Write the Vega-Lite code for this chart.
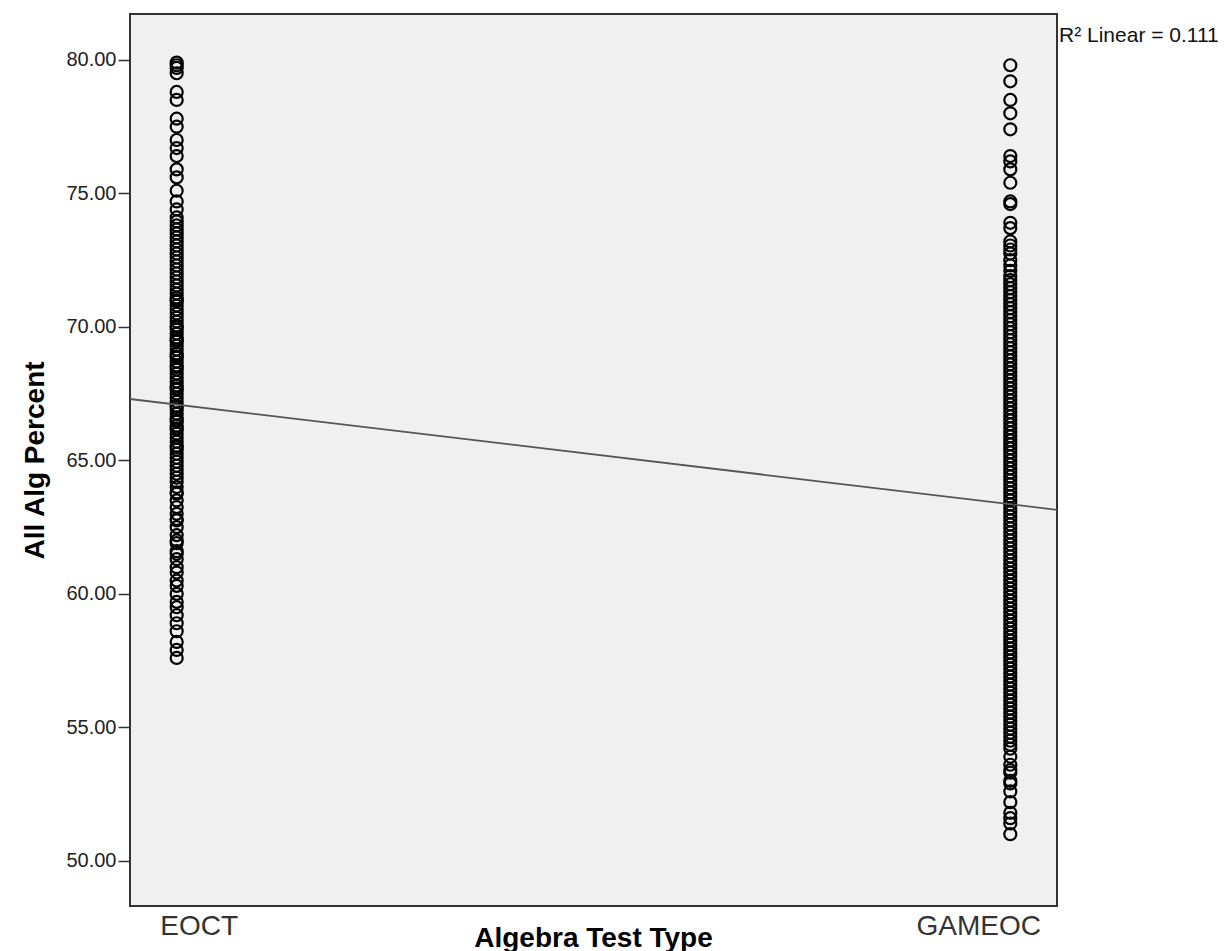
{
  "$schema": "https://vega.github.io/schema/vega-lite/v6.json",
  "autosize": {"type": "none"},
  "width": 927,
  "height": 892,
  "padding": {"left": 130, "top": 14, "right": 170, "bottom": 45},
  "background": "white",
  "config": {
    "view": {"fill": "#f0f0f0", "stroke": "#333333", "strokeWidth": 2},
    "font": "Liberation Sans"
  },
  "datasets": {
    "scores": [
      {"test": 1, "pct": 79.9}, {"test": 1, "pct": 79.8}, {"test": 1, "pct": 79.7}, {"test": 1, "pct": 79.5},
      {"test": 1, "pct": 78.8}, {"test": 1, "pct": 78.5}, {"test": 1, "pct": 77.8}, {"test": 1, "pct": 77.5},
      {"test": 1, "pct": 77.0}, {"test": 1, "pct": 76.7}, {"test": 1, "pct": 76.4}, {"test": 1, "pct": 75.9},
      {"test": 1, "pct": 75.6}, {"test": 1, "pct": 75.1}, {"test": 1, "pct": 74.7}, {"test": 1, "pct": 74.4},
      {"test": 1, "pct": 74.1}, {"test": 1, "pct": 73.8}, {"test": 1, "pct": 73.5}, {"test": 1, "pct": 73.2},
      {"test": 1, "pct": 72.9}, {"test": 1, "pct": 72.6}, {"test": 1, "pct": 72.3}, {"test": 1, "pct": 72.0},
      {"test": 1, "pct": 71.7}, {"test": 1, "pct": 71.4}, {"test": 1, "pct": 71.1}, {"test": 1, "pct": 70.8},
      {"test": 1, "pct": 70.5}, {"test": 1, "pct": 70.2}, {"test": 1, "pct": 69.9}, {"test": 1, "pct": 69.6},
      {"test": 1, "pct": 69.3}, {"test": 1, "pct": 69.0}, {"test": 1, "pct": 68.7}, {"test": 1, "pct": 68.4},
      {"test": 1, "pct": 68.1}, {"test": 1, "pct": 67.8}, {"test": 1, "pct": 67.5}, {"test": 1, "pct": 67.2},
      {"test": 1, "pct": 66.9}, {"test": 1, "pct": 66.6}, {"test": 1, "pct": 66.3}, {"test": 1, "pct": 66.0},
      {"test": 1, "pct": 65.7}, {"test": 1, "pct": 65.4}, {"test": 1, "pct": 65.1}, {"test": 1, "pct": 64.8},
      {"test": 1, "pct": 64.5}, {"test": 1, "pct": 64.0}, {"test": 1, "pct": 63.5}, {"test": 1, "pct": 63.0},
      {"test": 1, "pct": 62.5}, {"test": 1, "pct": 61.9}, {"test": 1, "pct": 61.3}, {"test": 1, "pct": 60.8},
      {"test": 1, "pct": 60.3}, {"test": 1, "pct": 59.7}, {"test": 1, "pct": 59.2}, {"test": 1, "pct": 58.6},
      {"test": 1, "pct": 58.2}, {"test": 1, "pct": 57.9}, {"test": 1, "pct": 57.6},
      {"test": 1, "pct": 68.5}, {"test": 1, "pct": 67.0}, {"test": 1, "pct": 66.5}, {"test": 1, "pct": 69.5},
      {"test": 1, "pct": 70.0}, {"test": 1, "pct": 65.5}, {"test": 1, "pct": 66.2}, {"test": 1, "pct": 67.7},
      {"test": 1, "pct": 68.9}, {"test": 1, "pct": 71.0}, {"test": 1, "pct": 64.2}, {"test": 1, "pct": 63.8},
      {"test": 1, "pct": 62.8}, {"test": 1, "pct": 62.2}, {"test": 1, "pct": 61.6},
      {"test": 1, "pct": 73.95}, {"test": 1, "pct": 73.65}, {"test": 1, "pct": 73.35}, {"test": 1, "pct": 73.05},
      {"test": 1, "pct": 72.75}, {"test": 1, "pct": 72.45}, {"test": 1, "pct": 72.15}, {"test": 1, "pct": 71.85},
      {"test": 1, "pct": 71.55}, {"test": 1, "pct": 71.25}, {"test": 1, "pct": 70.95}, {"test": 1, "pct": 70.65},
      {"test": 1, "pct": 70.35}, {"test": 1, "pct": 70.05}, {"test": 1, "pct": 69.75}, {"test": 1, "pct": 69.45},
      {"test": 1, "pct": 69.15}, {"test": 1, "pct": 68.85}, {"test": 1, "pct": 68.55}, {"test": 1, "pct": 68.25},
      {"test": 1, "pct": 67.95}, {"test": 1, "pct": 67.65}, {"test": 1, "pct": 67.35}, {"test": 1, "pct": 67.05},
      {"test": 1, "pct": 66.75}, {"test": 1, "pct": 66.45}, {"test": 1, "pct": 66.15}, {"test": 1, "pct": 65.85},
      {"test": 1, "pct": 65.55}, {"test": 1, "pct": 65.25}, {"test": 1, "pct": 64.95}, {"test": 1, "pct": 64.65},
      {"test": 1, "pct": 64.35}, {"test": 1, "pct": 63.75}, {"test": 1, "pct": 63.25}, {"test": 1, "pct": 62.75},
      {"test": 1, "pct": 62.0}, {"test": 1, "pct": 61.5}, {"test": 1, "pct": 61.0}, {"test": 1, "pct": 60.5},
      {"test": 1, "pct": 60.0}, {"test": 1, "pct": 59.5}, {"test": 1, "pct": 58.9},
      {"test": 2, "pct": 79.8}, {"test": 2, "pct": 79.2}, {"test": 2, "pct": 78.5}, {"test": 2, "pct": 78.0},
      {"test": 2, "pct": 77.4}, {"test": 2, "pct": 76.4}, {"test": 2, "pct": 76.2}, {"test": 2, "pct": 75.9},
      {"test": 2, "pct": 75.4}, {"test": 2, "pct": 74.7}, {"test": 2, "pct": 74.6}, {"test": 2, "pct": 73.9},
      {"test": 2, "pct": 73.7}, {"test": 2, "pct": 73.2}, {"test": 2, "pct": 72.9}, {"test": 2, "pct": 72.5},
      {"test": 2, "pct": 72.3}, {"test": 2, "pct": 71.9}, {"test": 2, "pct": 71.6}, {"test": 2, "pct": 71.3},
      {"test": 2, "pct": 71.0}, {"test": 2, "pct": 70.7}, {"test": 2, "pct": 70.4}, {"test": 2, "pct": 70.1},
      {"test": 2, "pct": 69.8}, {"test": 2, "pct": 69.5}, {"test": 2, "pct": 69.2}, {"test": 2, "pct": 68.9},
      {"test": 2, "pct": 68.6}, {"test": 2, "pct": 68.3}, {"test": 2, "pct": 68.0}, {"test": 2, "pct": 67.7},
      {"test": 2, "pct": 67.4}, {"test": 2, "pct": 67.1}, {"test": 2, "pct": 66.8}, {"test": 2, "pct": 66.5},
      {"test": 2, "pct": 66.2}, {"test": 2, "pct": 65.9}, {"test": 2, "pct": 65.6}, {"test": 2, "pct": 65.3},
      {"test": 2, "pct": 65.0}, {"test": 2, "pct": 64.7}, {"test": 2, "pct": 64.4}, {"test": 2, "pct": 64.1},
      {"test": 2, "pct": 63.8}, {"test": 2, "pct": 63.5}, {"test": 2, "pct": 63.2}, {"test": 2, "pct": 62.9},
      {"test": 2, "pct": 62.6}, {"test": 2, "pct": 62.3}, {"test": 2, "pct": 62.0}, {"test": 2, "pct": 61.7},
      {"test": 2, "pct": 61.4}, {"test": 2, "pct": 61.1}, {"test": 2, "pct": 60.8}, {"test": 2, "pct": 60.5},
      {"test": 2, "pct": 60.2}, {"test": 2, "pct": 59.9}, {"test": 2, "pct": 59.6}, {"test": 2, "pct": 59.3},
      {"test": 2, "pct": 59.0}, {"test": 2, "pct": 58.7}, {"test": 2, "pct": 58.4}, {"test": 2, "pct": 58.1},
      {"test": 2, "pct": 57.8}, {"test": 2, "pct": 57.5}, {"test": 2, "pct": 57.2}, {"test": 2, "pct": 56.9},
      {"test": 2, "pct": 56.6}, {"test": 2, "pct": 56.3}, {"test": 2, "pct": 56.0}, {"test": 2, "pct": 55.7},
      {"test": 2, "pct": 55.4}, {"test": 2, "pct": 55.1}, {"test": 2, "pct": 54.8}, {"test": 2, "pct": 54.5},
      {"test": 2, "pct": 54.2}, {"test": 2, "pct": 53.9}, {"test": 2, "pct": 53.6}, {"test": 2, "pct": 53.3},
      {"test": 2, "pct": 53.0}, {"test": 2, "pct": 52.6}, {"test": 2, "pct": 52.2}, {"test": 2, "pct": 51.8},
      {"test": 2, "pct": 51.4}, {"test": 2, "pct": 51.0}, {"test": 2, "pct": 52.9}, {"test": 2, "pct": 53.4},
      {"test": 2, "pct": 51.6},
      {"test": 2, "pct": 73.05}, {"test": 2, "pct": 72.75}, {"test": 2, "pct": 72.1}, {"test": 2, "pct": 71.75},
      {"test": 2, "pct": 71.45}, {"test": 2, "pct": 71.15}, {"test": 2, "pct": 70.85}, {"test": 2, "pct": 70.55},
      {"test": 2, "pct": 70.25}, {"test": 2, "pct": 69.95}, {"test": 2, "pct": 69.65}, {"test": 2, "pct": 69.35},
      {"test": 2, "pct": 69.05}, {"test": 2, "pct": 68.75}, {"test": 2, "pct": 68.45}, {"test": 2, "pct": 68.15},
      {"test": 2, "pct": 67.85}, {"test": 2, "pct": 67.55}, {"test": 2, "pct": 67.25}, {"test": 2, "pct": 66.95},
      {"test": 2, "pct": 66.65}, {"test": 2, "pct": 66.35}, {"test": 2, "pct": 66.05}, {"test": 2, "pct": 65.75},
      {"test": 2, "pct": 65.45}, {"test": 2, "pct": 65.15}, {"test": 2, "pct": 64.85}, {"test": 2, "pct": 64.55},
      {"test": 2, "pct": 64.25}, {"test": 2, "pct": 63.95}, {"test": 2, "pct": 63.65}, {"test": 2, "pct": 63.35},
      {"test": 2, "pct": 63.05}, {"test": 2, "pct": 62.75}, {"test": 2, "pct": 62.45}, {"test": 2, "pct": 62.15},
      {"test": 2, "pct": 61.85}, {"test": 2, "pct": 61.55}, {"test": 2, "pct": 61.25}, {"test": 2, "pct": 60.95},
      {"test": 2, "pct": 60.65}, {"test": 2, "pct": 60.35}, {"test": 2, "pct": 60.05}, {"test": 2, "pct": 59.75},
      {"test": 2, "pct": 59.45}, {"test": 2, "pct": 59.15}, {"test": 2, "pct": 58.85}, {"test": 2, "pct": 58.55},
      {"test": 2, "pct": 58.25}, {"test": 2, "pct": 57.95}, {"test": 2, "pct": 57.65}, {"test": 2, "pct": 57.35},
      {"test": 2, "pct": 57.05}, {"test": 2, "pct": 56.75}, {"test": 2, "pct": 56.45}, {"test": 2, "pct": 56.15},
      {"test": 2, "pct": 55.85}, {"test": 2, "pct": 55.55}, {"test": 2, "pct": 55.25}, {"test": 2, "pct": 54.95},
      {"test": 2, "pct": 54.65}, {"test": 2, "pct": 54.35}
    ],
    "fit": [
      {"test": 0.944, "pct": 67.30},
      {"test": 2.056, "pct": 63.15}
    ],
    "note": [
      {"test": 2.056, "pct": 80.67, "label": "R² Linear = 0.111"}
    ]
  },
  "layer": [
    {
      "data": {"name": "scores"},
      "mark": {"type": "point", "shape": "circle", "filled": false, "stroke": "#000000", "strokeWidth": 2.2, "opacity": 1, "size": 144},
      "encoding": {
        "x": {
          "field": "test", "type": "quantitative",
          "scale": {"domain": [0.944, 2.056], "nice": false, "zero": false},
          "axis": {
            "values": [1, 2],
            "labelExpr": "datum.value == 1 ? 'EOCT' : 'GAMEOC'",
            "labelOffset": {"condition": {"test": "datum.value == 1", "value": 22}, "value": -32},
            "ticks": false, "domain": false, "grid": false,
            "labelFont": "Liberation Sans", "labelFontSize": 28, "labelColor": "#333333",
            "labelPadding": 6, "labelBaseline": "top",
            "title": "Algebra Test Type",
            "titleFont": "Liberation Sans", "titleFontSize": 28, "titleFontWeight": "bold", "titleColor": "#000000",
            "titleX": 463, "titleY": 40, "titleBaseline": "alphabetic", "titleAnchor": "middle"
          }
        },
        "y": {
          "field": "pct", "type": "quantitative",
          "scale": {"domain": [48.31, 81.72], "nice": false, "zero": false},
          "axis": {
            "values": [50, 55, 60, 65, 70, 75, 80],
            "format": ".2f",
            "domain": false, "grid": false,
            "tickSize": 12, "tickColor": "#333333", "tickWidth": 1.5,
            "labelFont": "Liberation Sans", "labelFontSize": 20, "labelColor": "#222222", "labelPadding": 2,
            "title": "All Alg Percent",
            "titleFont": "Liberation Sans", "titleFontSize": 28, "titleFontWeight": "bold", "titleColor": "#000000",
            "titleAngle": -90, "titleX": -87, "titleY": 446, "titleBaseline": "alphabetic", "titleAnchor": "middle"
          }
        }
      }
    },
    {
      "data": {"name": "fit"},
      "mark": {"type": "line", "color": "#555555", "strokeWidth": 1.8},
      "encoding": {
        "x": {"field": "test", "type": "quantitative"},
        "y": {"field": "pct", "type": "quantitative"}
      }
    },
    {
      "data": {"name": "note"},
      "mark": {"type": "text", "align": "left", "baseline": "alphabetic", "dx": 2, "font": "Liberation Sans", "fontSize": 21, "color": "#111111"},
      "encoding": {
        "x": {"field": "test", "type": "quantitative"},
        "y": {"field": "pct", "type": "quantitative"},
        "text": {"field": "label"}
      }
    }
  ]
}
